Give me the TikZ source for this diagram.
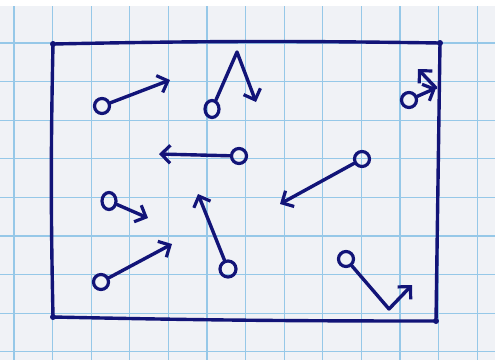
\documentclass[tikz,border=0pt]{standalone}
\usetikzlibrary{arrows.meta,shapes.geometric}
\definecolor{ink}{RGB}{18,20,120}
\definecolor{gridblue}{RGB}{150,200,232}
\definecolor{paper}{RGB}{240,242,246}
\tikzset{
  inkline/.style={draw=ink, line width=3.4pt, line cap=round, line join=round},
  particle/.style={circle, draw=ink, line width=3.2pt, minimum size=15pt, inner sep=0pt},
  oval/.style={ellipse, draw=ink, line width=3.2pt, minimum width=14pt, minimum height=17pt, inner sep=0pt},
  vel/.style={inkline, -{Straight Barb[length=9pt,width=18pt,line width=3.2pt]}},
  cornerdot/.style={circle, fill=ink, inner sep=0pt, minimum size=6pt}
}
\begin{document}
\begin{tikzpicture}[x=1pt,y=-1pt]
\useasboundingbox (0,0) rectangle (495,360);
\fill[paper] (0,0) rectangle (495,360);
\fill[white] (0,0) rectangle (495,6);
% grid
\foreach \k in {0,...,12} {
  \draw[gridblue, line width=1.2pt] ({14+38.6*\k},6) -- ({14+38.6*\k},360);
}
\foreach \k in {1,...,9} {
  \draw[gridblue, line width=1.2pt] (0,{4.4+38.6*\k}) -- (495,{4.4+38.6*\k});
}
% box
\coordinate (tl) at (53,44);
\coordinate (tr) at (440,43);
\coordinate (br) at (436,321);
\coordinate (bl) at (53,317);
\draw[inkline] (tl) to[bend left=1] (tr) -- (br) to[bend left=0.6] (bl) to[bend left=1.2] (tl);
\node[cornerdot] at (tl) {};
\node[cornerdot] at (tr) {};
\node[cornerdot] at (br) {};
\node[cornerdot] at (bl) {};
% particle 1
\node[particle] (p1) at (102,106) {};
\coordinate (v1) at (170,80);
\draw[vel] (p1) -- (v1);
% particle 2 (bounce off top wall)
\node[oval] (p2) at (212,109) {};
\coordinate (b2) at (237,52);
\coordinate (v2) at (256,102);
\draw[vel] (p2) -- (b2) -- (v2);
% particle 3
\node[particle] (p3) at (239,156) {};
\coordinate (v3) at (159,154);
\draw[vel] (p3) -- (v3);
% particle 4 (bounce off right wall)
\node[particle] (p4) at (409,100) {};
\coordinate (b4) at (436,88);
\coordinate (v4) at (418,69);
\draw[vel] (p4) -- (b4);
\draw[vel] (b4) -- (v4);
% particle 5
\node[particle] (p5) at (362,159) {};
\coordinate (v5) at (280,204);
\draw[vel] (p5) -- (v5);
% particle 6
\node[oval] (p6) at (109,201) {};
\coordinate (v6) at (148,218);
\draw[vel] (p6) -- (v6);
% particle 7
\node[particle, minimum width=16pt] (p7) at (228,269) {};
\coordinate (v7) at (198,194);
\draw[vel] (p7) -- (v7);
% particle 8
\node[particle] (p8) at (101,282) {};
\coordinate (v8) at (172,244);
\draw[vel] (p8) -- (v8);
% particle 9 (bounce off bottom)
\node[particle] (p9) at (346,259) {};
\coordinate (b9) at (389,309);
\coordinate (v9) at (412,285);
\draw[vel] (p9) -- (b9) -- (v9);
\end{tikzpicture}
\end{document}
